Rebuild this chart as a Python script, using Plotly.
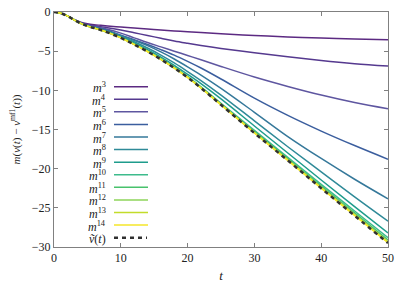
import plotly.graph_objects as go

t = [0, 1, 2, 3, 4, 5, 6, 7, 8, 10, 12, 14, 16, 18, 20, 22, 25, 30, 35, 40, 45, 50]

m3 = [0, -0.15, -0.5, -0.95, -1.3, -1.5, -1.62, -1.7, -1.78, -1.92, -2.05, -2.18, -2.3, -2.42, -2.53, -2.63, -2.78, -3.0, -3.18, -3.33, -3.45, -3.55]
m4 = [0, -0.15, -0.5, -0.97, -1.38, -1.62, -1.76, -1.88, -2.0, -2.3, -2.65, -3.0, -3.35, -3.7, -4.0, -4.28, -4.66, -5.2, -5.72, -6.2, -6.6, -6.9]
m5 = [0, -0.15, -0.5, -0.98, -1.4, -1.68, -1.85, -2.0, -2.2, -2.7, -3.3, -3.9, -4.45, -5.0, -5.55, -6.1, -6.95, -8.3, -9.5, -10.6, -11.55, -12.35]
m6 = [0, -0.15, -0.5, -0.98, -1.42, -1.72, -1.92, -2.1, -2.32, -2.95, -3.55, -4.15, -4.8, -5.5, -6.3, -7.15, -8.55, -11.0, -13.2, -15.2, -17.05, -18.8]
m7 = [0, -0.15, -0.5, -0.99, -1.43, -1.75, -1.97, -2.17, -2.42, -3.0, -3.6, -4.3, -5.1, -6.0, -7.0, -8.05, -9.75, -12.8, -15.9, -18.7, -21.35, -23.85]
m8 = [0, -0.15, -0.5, -1.0, -1.44, -1.77, -2.0, -2.22, -2.5, -3.1, -3.8, -4.6, -5.5, -6.5, -7.6, -8.75, -10.6, -13.9, -17.2, -20.4, -23.6, -26.7]
m9 = [0, -0.15, -0.5, -1.0, -1.45, -1.78, -2.02, -2.26, -2.55, -3.2, -3.95, -4.8, -5.75, -6.8, -7.95, -9.15, -11.1, -14.55, -18.0, -21.45, -24.85, -28.2]
m10 = [0, -0.15, -0.5, -1.0, -1.45, -1.79, -2.03, -2.28, -2.57, -3.25, -4.08, -4.97, -5.95, -7.03, -8.22, -9.55, -11.65, -15.12, -18.55, -22.0, -25.4, -28.8]
m11 = [0, -0.15, -0.5, -1.0, -1.45, -1.79, -2.04, -2.29, -2.58, -3.27, -4.11, -5.01, -6.0, -7.1, -8.3, -9.63, -11.75, -15.27, -18.72, -22.22, -25.65, -29.1]
m12 = [0, -0.15, -0.5, -1.0, -1.45, -1.8, -2.05, -2.3, -2.59, -3.28, -4.13, -5.03, -6.03, -7.13, -8.33, -9.67, -11.8, -15.37, -18.85, -22.38, -25.83, -29.3]
m13 = [0, -0.15, -0.5, -1.0, -1.45, -1.8, -2.05, -2.3, -2.6, -3.29, -4.14, -5.04, -6.04, -7.14, -8.34, -9.69, -11.83, -15.42, -18.92, -22.45, -25.92, -29.4]
m14 = [0, -0.15, -0.5, -1.0, -1.45, -1.8, -2.05, -2.3, -2.6, -3.3, -4.15, -5.05, -6.05, -7.15, -8.35, -9.7, -11.85, -15.44, -18.94, -22.48, -25.97, -29.45]
vt = [0, -0.15, -0.5, -1.0, -1.45, -1.8, -2.05, -2.3, -2.6, -3.3, -4.15, -5.05, -6.05, -7.15, -8.35, -9.7, -11.85, -15.45, -18.95, -22.5, -26.0, -29.5]

series = [m3, m4, m5, m6, m7, m8, m9, m10, m11, m12, m13, m14]
orders = [3, 4, 5, 6, 7, 8, 9, 10, 11, 12, 13, 14]
colors = ["#5c2a82", "#55398f", "#5e56a0", "#3b5e9e", "#35789a", "#2f8a98",
          "#1e9c8c", "#3dbb8c", "#48c26c", "#8ed45a", "#c2dc2a", "#f5e62a"]
vt_label = "<i>ṽ</i>(<i>t</i>)"

x_ticks = [0, 10, 20, 30, 40, 50]
y_ticks = [0, -5, -10, -15, -20, -25, -30]

# page has an 8px body margin, so the figure is drawn 8px in from the top-left
OFF = 8
W, H = 411 - OFF, 288 - OFF
ML, MR, MT, MB = 54 - OFF, 23, 12 - OFF, 41
PW, PH = W - ML - MR, H - MT - MB

fig = go.Figure()
for s, c in zip(series, colors):
    fig.add_trace(go.Scatter(x=t, y=s, mode="lines", line=dict(color=c, width=1.5, shape="spline"),
                             showlegend=False))
fig.add_trace(go.Scatter(x=t, y=vt, mode="lines",
                         line=dict(color="#303030", width=2.5, dash="4px,4px", shape="spline"),
                         showlegend=False))

font_fam = '"Liberation Serif", "Times New Roman", serif'

def px2paper_x(px):
    return (px - OFF - ML) / PW

def px2paper_y(py):
    return 1 - (py - OFF - MT) / PH

labels = [f"<i>m</i><sup>{k}</sup>" for k in orders] + [vt_label]
for i, lab in enumerate(labels):
    py = 86.7 + i * 12.58
    fig.add_annotation(x=px2paper_x(108), y=px2paper_y(py + 1), xref="paper", yref="paper",
                       text=lab, showarrow=False, xanchor="right", yanchor="middle",
                       font=dict(family=font_fam, size=12, color="#222"))
    if i < len(orders):
        fig.add_shape(type="line", xref="paper", yref="paper",
                      x0=px2paper_x(114), x1=px2paper_x(148), y0=px2paper_y(py), y1=px2paper_y(py),
                      line=dict(color=colors[i], width=1.5))
    else:
        fig.add_shape(type="line", xref="paper", yref="paper",
                      x0=px2paper_x(114), x1=px2paper_x(147), y0=px2paper_y(py), y1=px2paper_y(py),
                      line=dict(color="#303030", width=2.5, dash="4px,4px"))

axis_common = dict(showgrid=False, zeroline=False, showline=True, linecolor="#808080", linewidth=1,
                   mirror="ticks", ticks="inside", ticklen=4, tickcolor="#808080", tickwidth=1,
                   automargin=False, ticklabeloverflow="allow",
                   tickfont=dict(family=font_fam, size=12, color="#222"))

fig.update_layout(
    width=W, height=H, margin=dict(l=ML, r=MR, t=MT, b=MB),
    plot_bgcolor="white", paper_bgcolor="white",
    xaxis=dict(range=[0, 50], tickvals=x_ticks, ticktext=[str(v) for v in x_ticks],
               title=dict(text="<i>t</i>", font=dict(family=font_fam, size=13, color="#222"), standoff=6),
               **axis_common),
    yaxis=dict(range=[-30, 0], tickvals=y_ticks,
               ticktext=[("−" + str(-v)) if v < 0 else str(v) for v in y_ticks],
               title=dict(text="<i>m</i>(<i>v</i>(<i>t</i>) − <i>v</i><sup>mf1</sup>(<i>t</i>))",
                          font=dict(family=font_fam, size=11, color="#222"), standoff=17),
               **axis_common),
)

fig.write_html("out.html")
